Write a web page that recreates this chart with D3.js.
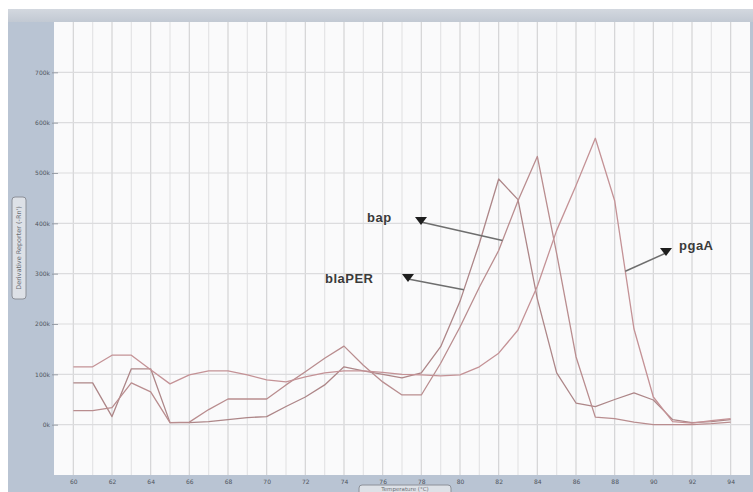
<!DOCTYPE html>
<html>
<head>
<meta charset="utf-8">
<script src="https://cdn.jsdelivr.net/npm/d3@7/dist/d3.min.js"></script>
<style>
  html, body { margin: 0; padding: 0; background: #ffffff; }
  svg { display: block; }
</style>
</head>
<body>
<svg id="chart" width="753" height="492"></svg>
<script>
// Melt-curve derivative data, one reading per degree (°C)
const temperatures = d3.range(60, 95);           // 60 … 94
const blaPER = [83, 83, 16, 111, 111, 4, 4, 6, 10, 14, 16, 36, 55, 79, 115, 107, 100, 93, 103,
                155, 245, 360, 488, 447, 250, 103, 43, 36, 50, 63, 49, 10, 4, 6, 10];
const bap    = [28, 28, 34, 83, 65, 4, 5, 30, 51, 51, 51, 79, 105, 132, 156, 118, 85, 59, 59,
                122, 194, 273, 346, 445, 533, 340, 135, 15, 12, 5, 0, 0, 0, 2, 5];
const pgaA   = [115, 115, 138, 138, 109, 81, 99, 107, 107, 99, 89, 85, 95, 103, 107, 107, 104, 100, 99,
                97, 99, 115, 142, 188, 275, 386, 475, 569, 445, 190, 55, 6, 3, 8, 12];
const yTicks = [0, 100, 200, 300, 400, 500, 600, 700];
const yTickLabels = ["0k", "100k", "200k", "300k", "400k", "500k", "600k", "700k"];
const xTicks = d3.range(60, 95, 2);

const svg = d3.select("#chart");
const W = 753, H = 492;
const plot = { left: 54, right: 750, top: 22, bottom: 475 };

const x = d3.scaleLinear().domain([59, 95]).range([plot.left, plot.right]);
const y = d3.scaleLinear().domain([-100, 800]).range([plot.bottom, plot.top]);

// Window frame
svg.append("rect").attr("x", 8).attr("y", 9).attr("width", W - 8).attr("height", H - 9)
  .attr("fill", "#b9c4d3");
const topGrad = svg.append("defs").append("linearGradient").attr("id", "topband")
  .attr("x1", 0).attr("x2", 0).attr("y1", 0).attr("y2", 1);
topGrad.append("stop").attr("offset", "0%").attr("stop-color", "#d3d8df");
topGrad.append("stop").attr("offset", "100%").attr("stop-color", "#c2c9d3");
svg.append("rect").attr("x", 8).attr("y", 9).attr("width", W - 8).attr("height", 13)
  .attr("fill", "url(#topband)");

// Plot area
svg.append("rect").attr("x", plot.left).attr("y", plot.top)
  .attr("width", plot.right - plot.left).attr("height", plot.bottom - plot.top)
  .attr("fill", "#fafafb");

// Vertical grid, one line per degree, darker on labelled degrees
const gridT = d3.range(60, 95);
svg.append("g").selectAll("line").data(gridT).join("line")
  .attr("x1", d => x(d)).attr("x2", d => x(d))
  .attr("y1", plot.top).attr("y2", plot.bottom)
  .attr("stroke", d => d % 2 === 0 ? "#d4d4d6" : "#e4e4e6")
  .attr("stroke-width", 1.2);

// Horizontal grid
svg.append("g").selectAll("line").data(yTicks).join("line")
  .attr("x1", plot.left).attr("x2", plot.right)
  .attr("y1", d => y(d)).attr("y2", d => y(d))
  .attr("stroke", "#dcdcde").attr("stroke-width", 1.2);

// Y axis ticks and labels
const yAxis = d3.axisLeft(y).tickValues(yTicks)
  .tickFormat((d, i) => yTickLabels[i]).tickSize(6).tickPadding(2);
const yg = svg.append("g").attr("transform", `translate(${plot.left + 4},0)`).call(yAxis);
yg.select(".domain").remove();
yg.selectAll(".tick line").attr("stroke", "#8a8f98").attr("stroke-width", 0.8);
yg.selectAll(".tick text").attr("fill", "#4f545d")
  .style("font", "6px 'DejaVu Sans', sans-serif");

// X axis labels
const xAxis = d3.axisBottom(x).tickValues(xTicks).tickFormat(d3.format("d")).tickSize(0).tickPadding(5);
const xg = svg.append("g").attr("transform", `translate(0,${plot.bottom})`).call(xAxis);
xg.select(".domain").remove();
xg.selectAll(".tick text").attr("fill", "#4f545d")
  .style("font", "6px 'DejaVu Sans', sans-serif");

// Axis title boxes
const yTitle = svg.append("g").attr("transform", "translate(19,248)");
yTitle.append("rect").attr("x", -7).attr("y", -51).attr("width", 14).attr("height", 102)
  .attr("rx", 3).attr("fill", "#dde1e7").attr("stroke", "#8c9098").attr("stroke-width", 1);
yTitle.append("text").attr("transform", "rotate(-90)").attr("text-anchor", "middle")
  .attr("dy", "0.35em").attr("fill", "#6a6e76")
  .style("font", "6.5px 'DejaVu Sans', sans-serif").text("Derivative Reporter (-Rn')");

const xTitle = svg.append("g").attr("transform", "translate(405,485)");
xTitle.append("rect").attr("x", -46).attr("y", 0).attr("width", 92).attr("height", 14)
  .attr("rx", 3).attr("fill", "#dde1e7").attr("stroke", "#8c9098").attr("stroke-width", 1);
xTitle.append("text").attr("x", 0).attr("y", 5.5).attr("text-anchor", "middle")
  .attr("fill", "#6a6e76").style("font", "5.5px 'DejaVu Sans', sans-serif")
  .text("Temperature (°C)");

// Curves
const series = [
  { name: "blaPER", values: blaPER, color: "#ad8688" },
  { name: "bap",    values: bap,    color: "#b98d8f" },
  { name: "pgaA",   values: pgaA,   color: "#c49296" }
];
const line = d3.line().x((d, i) => x(temperatures[i])).y(d => y(d));
svg.append("g").selectAll("path").data(series).join("path")
  .attr("d", d => line(d.values))
  .attr("fill", "none")
  .attr("stroke", d => d.color)
  .attr("stroke-width", 1.3)
  .attr("stroke-linejoin", "round");

// Callout labels: text, down-pointing marker, leader line to the curve
function valueAt(values, t) {
  const i = Math.floor(t) - temperatures[0];
  const f = t - Math.floor(t);
  return values[i] + (values[i + 1] - values[i]) * f;
}
const callouts = [
  { text: "bap",    tx: 367, ty: 222, mx: 421, my: 221, series: bap,    t: 82.2 },
  { text: "blaPER", tx: 325, ty: 283, mx: 408, my: 278, series: blaPER, t: 80.2 },
  { text: "pgaA",   tx: 679, ty: 250, mx: 666, my: 252, series: pgaA,   t: 88.55 }
];
const cg = svg.append("g");
callouts.forEach(c => {
  cg.append("line")
    .attr("x1", c.mx).attr("y1", c.my + 1)
    .attr("x2", x(c.t)).attr("y2", y(valueAt(c.series, c.t)))
    .attr("stroke", "#6e6e6e").attr("stroke-width", 1.5);
  cg.append("path")
    .attr("d", `M${c.mx - 6},${c.my - 4}L${c.mx + 6},${c.my - 4}L${c.mx},${c.my + 4}Z`)
    .attr("fill", "#1e1e1e");
  cg.append("text").attr("x", c.tx).attr("y", c.ty)
    .attr("fill", "#3a3a3a")
    .style("font", "600 13px 'Liberation Sans', Arial, sans-serif")
    .style("letter-spacing", "0.5px")
    .text(c.text);
});
</script>
</body>
</html>
